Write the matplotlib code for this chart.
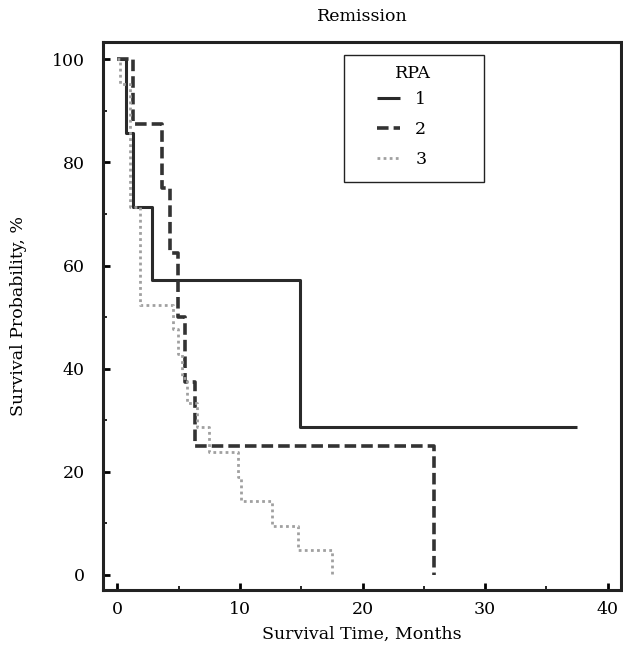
import numpy as np
import matplotlib
matplotlib.use('Agg')
import matplotlib.pyplot as plt
from matplotlib.patches import Rectangle
from matplotlib.ticker import MultipleLocator

# Kaplan-Meier steps (time in months, survival in %)
rpa1_time = [0, 0.7, 1.3, 2.8, 14.9, 37.5]
rpa1_surv = [100, 85.7, 71.4, 57.1, 28.6, 28.6]

rpa2_time = [0, 1.3, 3.6, 4.3, 4.9, 5.5, 6.3, 25.8]
rpa2_surv = [100, 87.5, 75.0, 62.5, 50.0, 37.5, 25.0, 0]

rpa3_time = [0, 0.2, 1.0, 1.8, 4.5, 4.9, 5.3, 5.7, 6.5, 7.5, 9.8, 10.1, 12.6, 14.7, 17.5]
rpa3_surv = [100, 95.2, 71.4, 52.4, 47.6, 42.9, 38.1, 33.3, 28.6, 23.8, 19.0, 14.3, 9.5, 4.8, 0]

labels = ['1', '2', '3']

plt.rcParams['font.family'] = ['DejaVu Serif']
FS = 12.5
W, H = 623, 651

fig = plt.figure(figsize=(W / 100, H / 100), dpi=100)
ax = fig.add_axes([0.165, 0.094, 0.832, 0.841])

ax.step(rpa1_time, rpa1_surv, where='post', color='#2a2a2a', lw=2.2,
        solid_capstyle='butt', label=labels[0])
ax.step(rpa2_time, rpa2_surv, where='post', color='#333333', lw=2.6,
        dashes=(3.2, 1.4), label=labels[1])
ax.step(rpa3_time, rpa3_surv, where='post', color='#a0a0a0', lw=2.0,
        dashes=(1.0, 1.2), label=labels[2])

ax.set_xlim(-1.2, 41.1)
ax.set_ylim(-2.9, 103.3)
ax.xaxis.set_major_locator(MultipleLocator(10))
ax.xaxis.set_minor_locator(MultipleLocator(5))
ax.yaxis.set_major_locator(MultipleLocator(20))
ax.yaxis.set_minor_locator(MultipleLocator(10))
ax.tick_params(which='major', direction='in', length=5, width=2, labelsize=FS)
ax.tick_params(axis='y', which='major', pad=13)
ax.tick_params(axis='x', which='major', pad=8)
ax.tick_params(which='minor', direction='in', length=3, width=1.2)
for s in ax.spines.values():
    s.set_linewidth(2.2)
    s.set_color('#222222')

ax.set_title('Remission', fontsize=FS, pad=15)
ax.set_xlabel('Survival Time, Months', fontsize=FS, labelpad=6)
ax.set_ylabel('Survival Probability, %', fontsize=FS, labelpad=18)

# legend: frame and title drawn separately so the box is as wide as in the source
fig.patches.append(Rectangle((344 / W, 1 - 182 / H), 140 / W, 127 / H,
                             transform=fig.transFigure, fill=False,
                             edgecolor='#222222', lw=1.0))
fig.text(413 / W, 1 - 73 / H, 'RPA', ha='center', va='center', fontsize=FS)
leg = ax.legend(loc='upper left', bbox_to_anchor=(377 / W, 1 - 91 / H),
                bbox_transform=fig.transFigure, fontsize=FS,
                handlelength=1.3, handletextpad=0.9, labelspacing=0.75,
                frameon=False, borderpad=0, borderaxespad=0)

fig.savefig('out.png', dpi=100)
